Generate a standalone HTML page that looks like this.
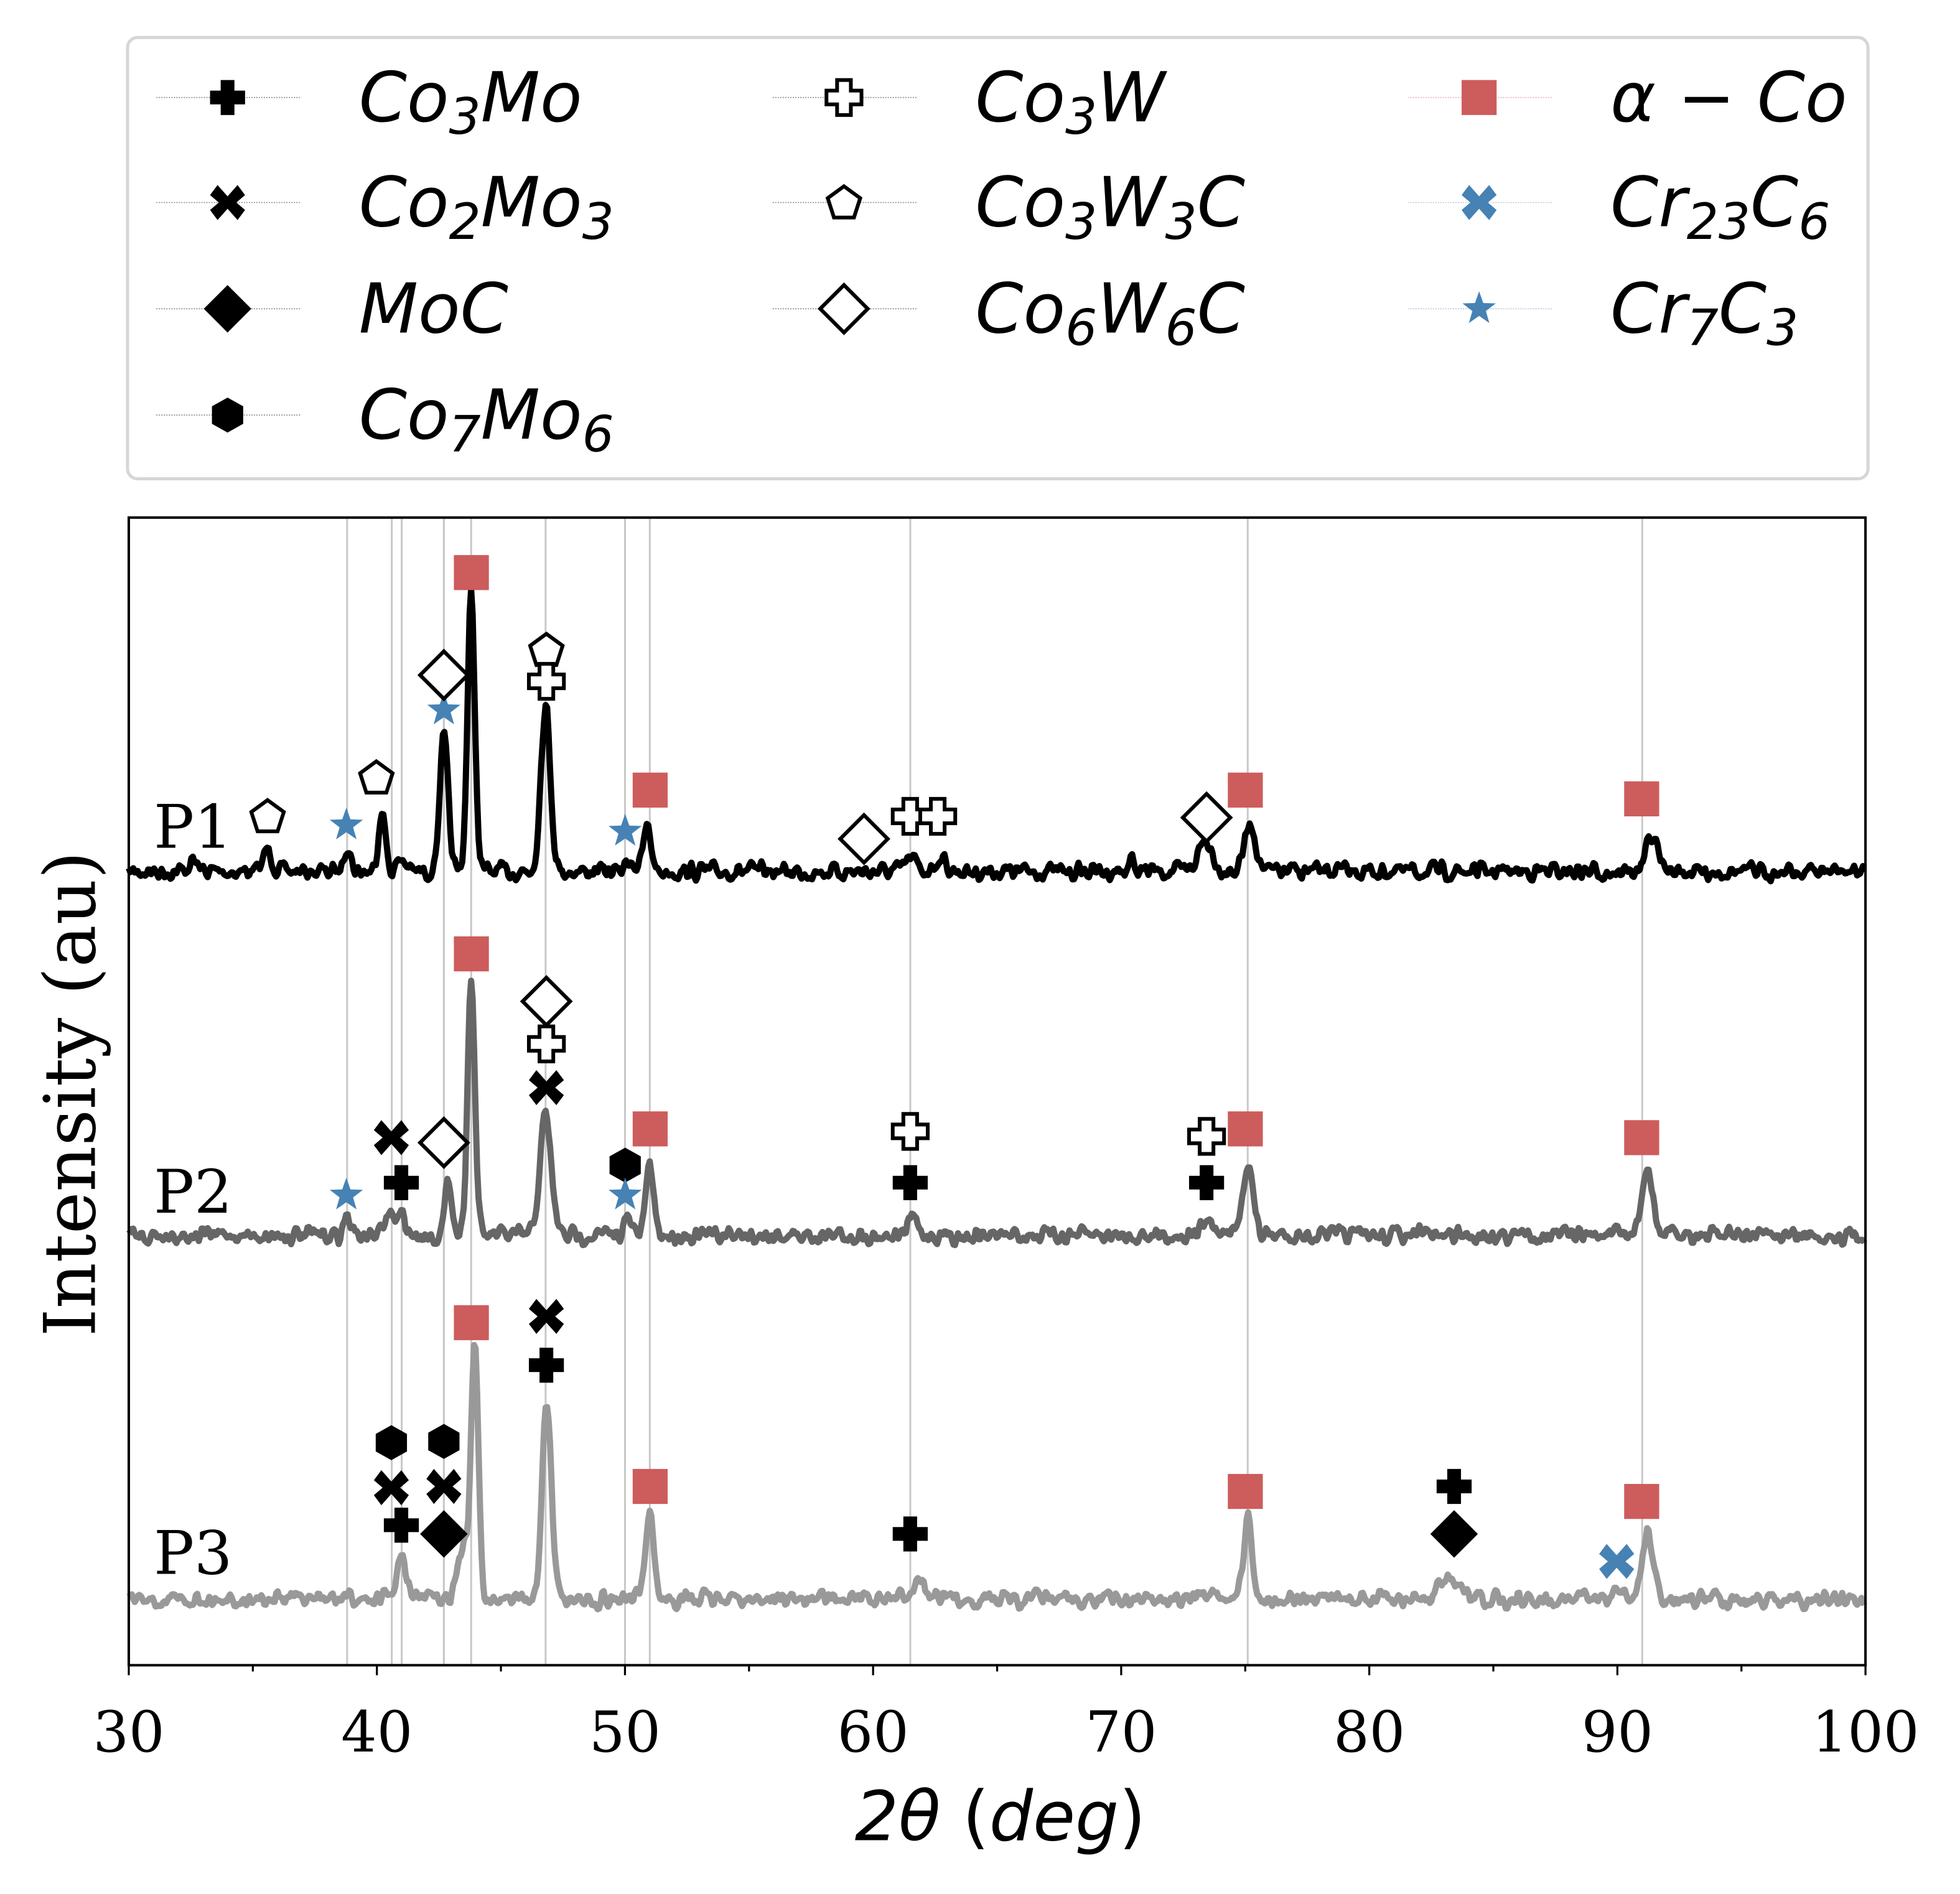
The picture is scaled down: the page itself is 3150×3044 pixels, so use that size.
<!DOCTYPE html>
<html><head><meta charset="utf-8"><style>
html,body{margin:0;padding:0;background:#fff}
svg{display:block}
.lg{font-family:"DejaVu Sans",sans-serif;font-style:italic;font-size:55px}
.sr{font-family:"DejaVu Serif","Liberation Serif",serif}
</style></head><body>
<svg id="s" width="3150" height="3044" viewBox="0 0 1567.6 1515" preserveAspectRatio="none" xmlns="http://www.w3.org/2000/svg">
<defs>
<path id="cross" d="M-5.5,-14H5.5V-5.5H14V5.5H5.5V14H-5.5V5.5H-14V-5.5H-5.5Z"/>
<path id="xm" d="M-14,-6 L-8,-14 L0,-5 L8,-14 L14,-6 L7,0 L14,6 L8,14 L0,5 L-8,14 L-14,6 L-7,0Z"/>
<path id="pent" d="M0,-13 L13,-3.5 L8,12 L-8,12 L-13,-3.5Z"/>
<path id="dia" d="M0,-19 L19,0 L0,19 L-19,0Z"/>
<path id="hex" d="M0,-14 L12.5,-7 L12.5,7 L0,14 L-12.5,7 L-12.5,-7Z"/>
<path id="star" d="M0,-14 L3.3,-4.6 L13.3,-4.3 L5.4,1.8 L8.2,11.4 L0,5.7 L-8.2,11.4 L-5.4,1.8 L-13.3,-4.3 L-3.3,-4.6Z"/>
<rect id="sq" x="-14" y="-14" width="28" height="28"/>
</defs>
<rect x="102" y="30" width="1392" height="353" rx="8" fill="#fff" stroke="#d6d6d6" stroke-width="2.5"/>
<g id="vl" stroke="#c8c8c8" stroke-width="1.5"></g>
<g id="curves" fill="none" stroke-linejoin="round"></g>
<g id="mk"></g>
<rect x="103" y="414" width="1389" height="918" fill="none" stroke="#000" stroke-width="2"/>
<g id="ticks" stroke="#000" stroke-width="1.6"></g>
<g class="sr" font-size="45" text-anchor="middle" id="tl"></g>
<text x="800" y="1472" text-anchor="middle" class="lg" font-size="57">2<tspan>θ</tspan> <tspan font-style="normal">(</tspan>deg<tspan font-style="normal">)</tspan></text>
<text class="sr" font-size="57" transform="translate(76,875) rotate(-90)" text-anchor="middle">Intensity (au)</text>
<text class="sr" font-size="48" x="123" y="678">P1</text>
<text class="sr" font-size="48" x="123" y="970">P2</text>
<text class="sr" font-size="48" x="123" y="1259">P3</text>
<g id="leg"></g>
</svg>
<script>
const NS="http://www.w3.org/2000/svg";
function X(d){return 103+(d-30)*19.843;}
function el(p,t,a){const e=document.createElementNS(NS,t);for(const k in a)e.setAttribute(k,a[k]);document.getElementById(p).appendChild(e);return e;}
[38.8,40.6,41.0,42.7,42.7,43.8,46.8,50.0,51.0,61.5,75.1,91.0].forEach(d=>el('vl','line',{x1:X(d),x2:X(d),y1:414,y2:1332}));
let seed=7;function rnd(){seed=(seed*16807)%2147483647;return seed/2147483647;}
function curve(base,peaks,col){
  let n=[];for(let d=30;d<=100.1;d+=0.06)n.push(rnd()-0.5);
  let sm=n.map((v,i)=>((n[i-1]||0)+v*2+(n[i+1]||0))/4);
  let p="";let i=0;
  for(let d=30;d<=100.001;d+=0.06,i++){
    let y=base+sm[i]*18;
    peaks.forEach(([c,h,w])=>{y-=h*Math.exp(-Math.pow(d-c,2)/(2*w*w*1.3));});
    p+=(i?"L":"M")+X(d).toFixed(1)+","+y.toFixed(1);
  }
  el('curves','path',{d:p,stroke:col,'stroke-width':5});
}
curve(697,[[32.6,8,.15],[35.6,18,.15],[38.8,22,.12],[40.2,50,.12],[41,10,.15],[42.7,105,.15],[43.8,220,.13],[46.8,132,.17],[50.2,10,.15],[50.9,35,.14],[61.5,10,.2],[62.7,10,.2],[73.4,25,.25],[75.2,38,.2],[91.4,28,.2],[70.4,8,.1]],"#000");
curve(988,[[38.8,15,.12],[40.5,18,.15],[41,15,.15],[42.9,45,.12],[43.8,205,.13],[46.8,95,.2],[50.1,12,.15],[51,55,.14],[61.6,15,.15],[73.5,12,.2],[75.1,58,.18],[91.2,50,.2]],"#666");
curve(1279,[[41,30,.18],[43.5,40,.2],[43.95,195,.13],[46.85,155,.17],[51,72,.14],[61.8,18,.2],[75.1,62,.15],[83.2,15,.3],[90,10,.15],[91.2,52,.2]],"#999");
function m(id,x,y,kind){
  let a={href:'#'+id,x:x,y:y};
  if(kind=='o'){a.fill='#fff';a.stroke='#000';a['stroke-width']=3;}
  else if(kind=='r')a.fill='#cd5c5c';
  else if(kind=='b')a.fill='#4682b4';
  else a.fill='#000';
  return el('mk','use',a);
}
[["pent",214,653,"o"],["star",277,660,"b"],["pent",301,622,"o"],["star",355,568,"b"],["dia",355,540,"o"],["sq",377,458,"r"],["pent",437,520,"o"],["cross",437,545,"o"],["sq",520,632,"r"],["star",500,665,"b"],["dia",691,671,"o"],["cross",728,653,"o"],["cross",750,653,"o"],["dia",965,654,"o"],["sq",996,632,"r"],["sq",1313,639,"r"],
["star",277,956,"b"],["cross",321,946,"k"],["xm",313,910,"k"],["dia",355,914,"o"],["sq",377,763,"r"],["dia",437,801,"o"],["cross",437,835,"o"],["xm",437,870,"k"],["hex",500,932,"k"],["star",500,956,"b"],["sq",520,903,"r"],["cross",728,905,"o"],["cross",728,946,"k"],["cross",965,909,"o"],["cross",965,946,"k"],["sq",996,903,"r"],["sq",1313,910,"r"],
["hex",313,1154,"k"],["xm",313,1190,"k"],["cross",321,1220,"k"],["hex",355,1153,"k"],["xm",355,1189,"k"],["dia",355,1227,"k"],["sq",377,1058,"r"],["xm",437,1053,"k"],["cross",437,1092,"k"],["sq",520,1189,"r"],["cross",728,1227,"k"],["sq",996,1193,"r"],["cross",1163,1189,"k"],["dia",1163,1227,"k"],["xm",1293,1249,"b"],["sq",1313,1201,"r"]
].forEach(a=>m(...a));
for(let d=30;d<=100;d+=5){let maj=d%10==0;el('ticks','line',{x1:X(d),x2:X(d),y1:1332,y2:1332+(maj?8:5)});
 if(maj){const t=el('tl','text',{x:X(d),y:1401});t.textContent=d;}}
const L=[[125,78,"cross","k",["Co",["3"],"Mo"]],[125,162,"xm","k",["Co",["2"],"Mo",["3"]]],[125,247,"dia","k",["MoC"]],[125,332,"hex","k",["Co",["7"],"Mo",["6"]]],
[618,78,"cross","o",["Co",["3"],"W"]],[618,162,"pent","o",["Co",["3"],"W",["3"],"C"]],[618,247,"dia","o",["Co",["6"],"W",["6"],"C"]],
[1126,78,"sq","r",["α − Co"]],[1126,162,"xm","b",["Cr",["23"],"C",["6"]]],[1126,247,"star","b",["Cr",["7"],"C",["3"]]]];
L.forEach(([x,y,id,k,txt])=>{
 el('leg','line',{x1:x,x2:x+115,y1:y,y2:y,stroke:k=='r'?'#e8b0b0':k=='b'?'#b0c8e0':'#888','stroke-width':0.8,'stroke-dasharray':'1 1'});
 const u=el('leg','use',{href:'#'+id,x:x+57,y:y,fill:k=='o'?'#fff':k=='r'?'#cd5c5c':k=='b'?'#4682b4':'#000'});
 if(k=='o'){u.setAttribute('stroke','#000');u.setAttribute('stroke-width',3);}
 const t=el('leg','text',{x:x+162,y:y+19,class:'lg'});
 txt.forEach(s=>{const ts=document.createElementNS(NS,'tspan');
  if(Array.isArray(s)){ts.textContent=s[0];ts.setAttribute('font-size','40');ts.setAttribute('dy','10');}
  else{ts.textContent=s;ts.setAttribute('dy',t.childNodes.length&&Array.isArray(txt[t.childNodes.length-1])?'-10':'0');}
  t.appendChild(ts);});
});
</script>
</body></html>
